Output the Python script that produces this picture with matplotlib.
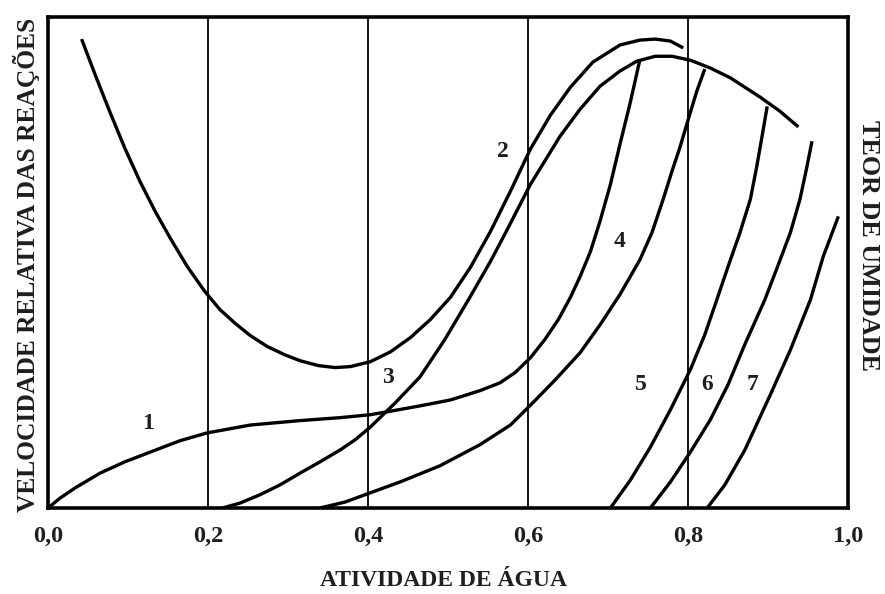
import matplotlib.pyplot as plt

plt.rcParams['font.family'] = ['Liberation Serif', 'DejaVu Serif']
plt.rcParams['font.weight'] = 'bold'

# atividade de água (x) e velocidade relativa / teor de umidade (y, 0-100)
# 1 - isoterma de sorção
iso_x = [0, .015, .034, .065, .096, .128, .165, .199, .253, .315, .365, .403, .431, .465,
         .503, .54, .565, .584, .603, .621, .638, .653, .665, .678, .69, .703, .715,
         .728, .74]
iso_y = [0, 2.0, 4.1, 7.1, 9.4, 11.4, 13.7, 15.3, 16.9, 17.8, 18.4, 19.0, 19.8, 20.8,
         22.0, 23.9, 25.5, 27.6, 30.6, 34.3, 38.4, 42.9, 47.1, 52.2, 58.4, 65.9, 74.1,
         82.7, 91.4]

# 2 - oxidação lipídica
lip_x = [.042, .06, .078, .096, .115, .134, .153, .174, .196, .215, .234, .253, .274,
         .296, .315, .338, .359, .378, .403, .428, .453, .478, .503, .528, .553, .578,
         .603, .628, .653, .681, .715, .74, .759, .778, .794]
lip_y = [95.5, 87.8, 80.4, 73.3, 66.5, 60.4, 54.9, 49.2, 44.1, 40.4, 37.6, 35.1, 32.9,
         31.2, 30.0, 29.0, 28.6, 28.8, 29.8, 31.8, 34.7, 38.4, 42.9, 49.0, 56.3, 64.5,
         73.1, 80.0, 85.7, 90.8, 94.3, 95.3, 95.5, 95.1, 93.7]

# 3 - escurecimento não enzimático
brw_x = [.218, .24, .265, .29, .315, .34, .365, .384, .403, .434, .465, .496, .528,
         .553, .574, .603, .64, .665, .69, .715, .736, .759, .78, .803, .828, .853,
         .89, .915, .938]
brw_y = [0, 1.0, 2.7, 4.7, 7.1, 9.4, 11.8, 13.9, 16.5, 21.4, 26.7, 34.3, 43.1,
         50.2, 56.7, 65.9, 75.7, 81.2, 85.9, 89.0, 91.0, 92.0, 92.0, 91.2, 89.6, 87.6,
         83.7, 80.8, 77.6]

# 4 - atividade enzimática
enz_x = [.34, .371, .403, .44, .49, .54, .578, .601, .634, .665, .69, .715, .74, .755,
         .769, .78, .79, .803, .811, .821]
enz_y = [0, 1.2, 3.1, 5.3, 8.6, 12.9, 16.9, 20.6, 26.1, 31.6, 37.3, 43.5, 50.6, 56.1,
         62.9, 68.6, 73.5, 80.6, 84.9, 89.4]

# 5, 6, 7 - fungos, leveduras, bactérias
fun_x = [.703, .728, .753, .778, .803, .821, .836, .851, .865, .878, .886, .893, .899]
fun_y = [0, 5.7, 12.4, 20.0, 28.2, 35.3, 42.4, 49.6, 56.1, 62.9, 69.6, 76.1, 81.8]

lev_x = [.753, .778, .803, .828, .85, .871, .896, .913, .928, .94, .948, .955]
lev_y = [0, 5.3, 11.4, 18.0, 25.1, 33.3, 42.4, 49.6, 56.1, 62.9, 69.0, 74.7]

bac_x = [.824, .846, .871, .903, .928, .953, .969, .988]
bac_y = [0, 4.7, 11.8, 23.1, 32.2, 42.4, 51.2, 59.4]

curvas = [(iso_x, iso_y), (lip_x, lip_y), (brw_x, brw_y), (enz_x, enz_y),
          (fun_x, fun_y), (lev_x, lev_y), (bac_x, bac_y)]

# posição dos números das curvas
rotulos = ['1', '2', '3', '4', '5', '6', '7']
rot_x = [.125, .569, .425, .715, .741, .824, .881]
rot_y = [17.3, 72.7, 26.5, 54.3, 25.1, 25.1, 25.1]

ticks = [0, .2, .4, .6, .8, 1.0]
tick_labels = ['0,0', '0,2', '0,4', '0,6', '0,8', '1,0']

fig = plt.figure(figsize=(8.85, 5.94), dpi=100)
ax = fig.add_axes([48 / 885, 86 / 594, 800 / 885, 491 / 594])

for g in ticks[1:-1]:
    ax.axvline(g, color='black', lw=1.3, zorder=1)

for cx, cy in curvas:
    ax.plot(cx, cy, color='black', lw=2.4, solid_capstyle='butt',
            solid_joinstyle='round', zorder=2)

for t, tx, ty in zip(rotulos, rot_x, rot_y):
    ax.text(tx, ty, t, fontsize=17, ha='center', va='center', color='#1e1e1e')

ax.set_xlim(0, 1)
ax.set_ylim(0, 100)
ax.set_xticks(ticks)
ax.set_xticklabels(tick_labels, fontsize=17.5, color='#1e1e1e')
ax.set_yticks([])
ax.tick_params(axis='x', length=0, pad=13)
for s in ax.spines.values():
    s.set_linewidth(2.6)

fig.text(444 / 885, 1 - 580 / 594, 'ATIVIDADE DE ÁGUA', fontsize=17,
         ha='center', va='center', color='#1e1e1e')
fig.text(26 / 885, 1 - 265 / 594, 'VELOCIDADE RELATIVA DAS REAÇÕES', fontsize=18.4,
         ha='center', va='center', rotation=90, color='#1e1e1e')
fig.text(869 / 885, 1 - 245 / 594, 'TEOR DE UMIDADE', fontsize=18.8,
         ha='center', va='center', rotation=-90, color='#1e1e1e')

plt.savefig('out.png', dpi=100)
